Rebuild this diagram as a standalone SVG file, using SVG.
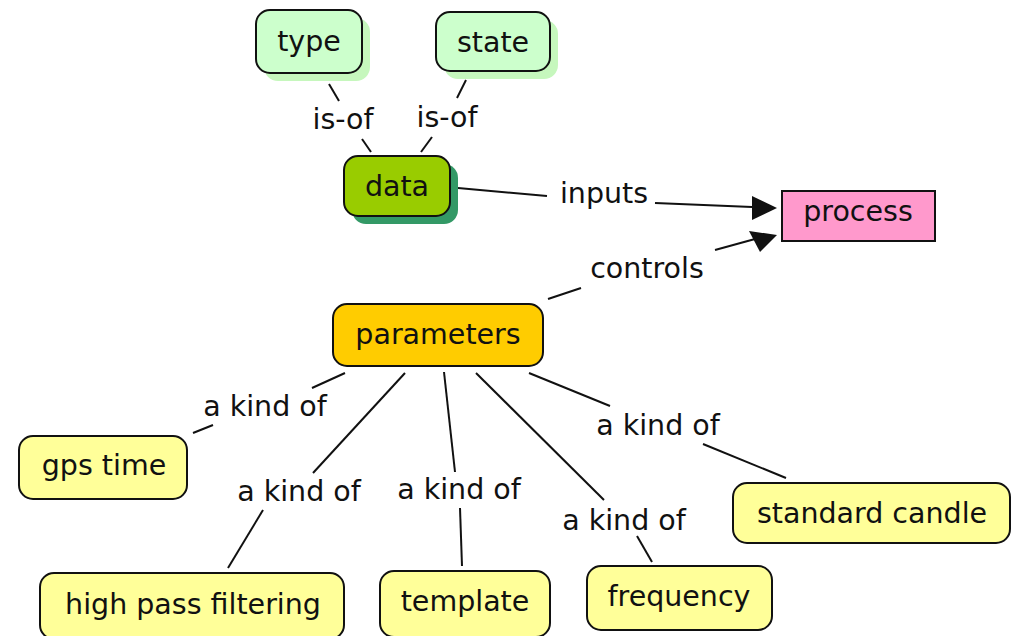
<svg xmlns="http://www.w3.org/2000/svg" width="1022" height="636" viewBox="0 0 1022 636">
  <style>
    text { font-family: "DejaVu Sans", Verdana, sans-serif; font-size: 28.5px; fill: #111; text-anchor: middle; }
    .box { stroke: #111; stroke-width: 2; }
    .mint { fill: #ccffcc; }
    .mintShadow { fill: #c6f7bd; }
    .lime { fill: #99cc00; }
    .limeShadow { fill: #339966; }
    .pink { fill: #ff99cc; }
    .gold { fill: #ffcc00; }
    .pale { fill: #ffff99; }
    .link { stroke: #111; stroke-width: 2; fill: none; }
  </style>
  <defs>
    <marker id="arrow" viewBox="0 0 10 10" refX="10" refY="5" markerWidth="12" markerHeight="12" markerUnits="userSpaceOnUse" orient="auto">
      <path d="M0,0 L10,5 L0,10 Z" fill="#111"/>
    </marker>
  </defs>
  <rect width="1022" height="636" fill="#ffffff"/>

  <!-- connectors -->
  <g id="connectors">
    <line class="link" x1="329" y1="84" x2="339" y2="101"/>
    <line class="link" x1="362" y1="139" x2="371" y2="152"/>
    <line class="link" x1="466" y1="80" x2="457" y2="98"/>
    <line class="link" x1="432" y1="137" x2="421" y2="152"/>
    <line class="link" x1="458" y1="188" x2="547" y2="196"/>
    <line class="link" x1="655" y1="203" x2="752" y2="207"/>
    <polygon points="752,196 777,208 752,220" fill="#111"/>
    <line class="link" x1="715" y1="250" x2="755" y2="239"/>
    <polygon points="749,231 777,235 760,252" fill="#111"/>
    <line class="link" x1="548" y1="299" x2="581" y2="288"/>
    <line class="link" x1="345" y1="373" x2="312" y2="388"/>
    <line class="link" x1="213" y1="425" x2="193" y2="433"/>
    <line class="link" x1="405" y1="373" x2="313" y2="473"/>
    <line class="link" x1="263" y1="510" x2="228" y2="568"/>
    <line class="link" x1="444" y1="372" x2="455" y2="472"/>
    <line class="link" x1="460" y1="508" x2="462" y2="566"/>
    <line class="link" x1="476" y1="373" x2="604" y2="500"/>
    <line class="link" x1="637" y1="536" x2="652" y2="562"/>
    <line class="link" x1="529" y1="373" x2="610" y2="406"/>
    <line class="link" x1="703" y1="444" x2="786" y2="478"/>
  </g>

  <!-- link labels -->
  <g id="labels">
    <text x="343" y="129">is-of</text>
    <text x="447" y="127">is-of</text>
    <text x="604" y="203">inputs</text>
    <text x="647" y="278">controls</text>
    <text x="265" y="416">a kind of</text>
    <text x="299" y="501">a kind of</text>
    <text x="459" y="499">a kind of</text>
    <text x="624" y="530">a kind of</text>
    <text x="658" y="435">a kind of</text>
  </g>

  <g id="node-type">
    <rect class="mintShadow" x="264" y="18" width="106" height="63" rx="14"/>
    <rect class="box mint" x="256" y="10" width="106" height="63" rx="14"/>
    <text x="309" y="51">type</text>
  </g>
  <g id="node-state">
    <rect class="mintShadow" x="444" y="20" width="114" height="59" rx="14"/>
    <rect class="box mint" x="436" y="12" width="114" height="59" rx="14"/>
    <text x="493" y="52">state</text>
  </g>
  <g id="node-data">
    <rect class="limeShadow" x="352" y="164" width="106" height="60" rx="14"/>
    <rect class="box lime" x="344" y="156" width="106" height="60" rx="14"/>
    <text x="397" y="196">data</text>
  </g>
  <g id="node-process">
    <rect class="box pink" x="782" y="191" width="153" height="50"/>
    <text x="858" y="221">process</text>
  </g>
  <g id="node-parameters">
    <rect class="box gold" x="333" y="304" width="210" height="62" rx="14"/>
    <text x="438" y="344">parameters</text>
  </g>
  <g id="node-gps-time">
    <rect class="box pale" x="19" y="436" width="168" height="63" rx="14"/>
    <text x="104" y="475">gps time</text>
  </g>
  <g id="node-high-pass-filtering">
    <rect class="box pale" x="40" y="573" width="304" height="66" rx="14"/>
    <text x="193" y="614">high pass filtering</text>
  </g>
  <g id="node-template">
    <rect class="box pale" x="380" y="571" width="170" height="66" rx="14"/>
    <text x="465" y="611">template</text>
  </g>
  <g id="node-frequency">
    <rect class="box pale" x="587" y="566" width="185" height="64" rx="14"/>
    <text x="679" y="606">frequency</text>
  </g>
  <g id="node-standard-candle">
    <rect class="box pale" x="733" y="483" width="277" height="60" rx="14"/>
    <text x="872" y="523">standard candle</text>
  </g>
</svg>
